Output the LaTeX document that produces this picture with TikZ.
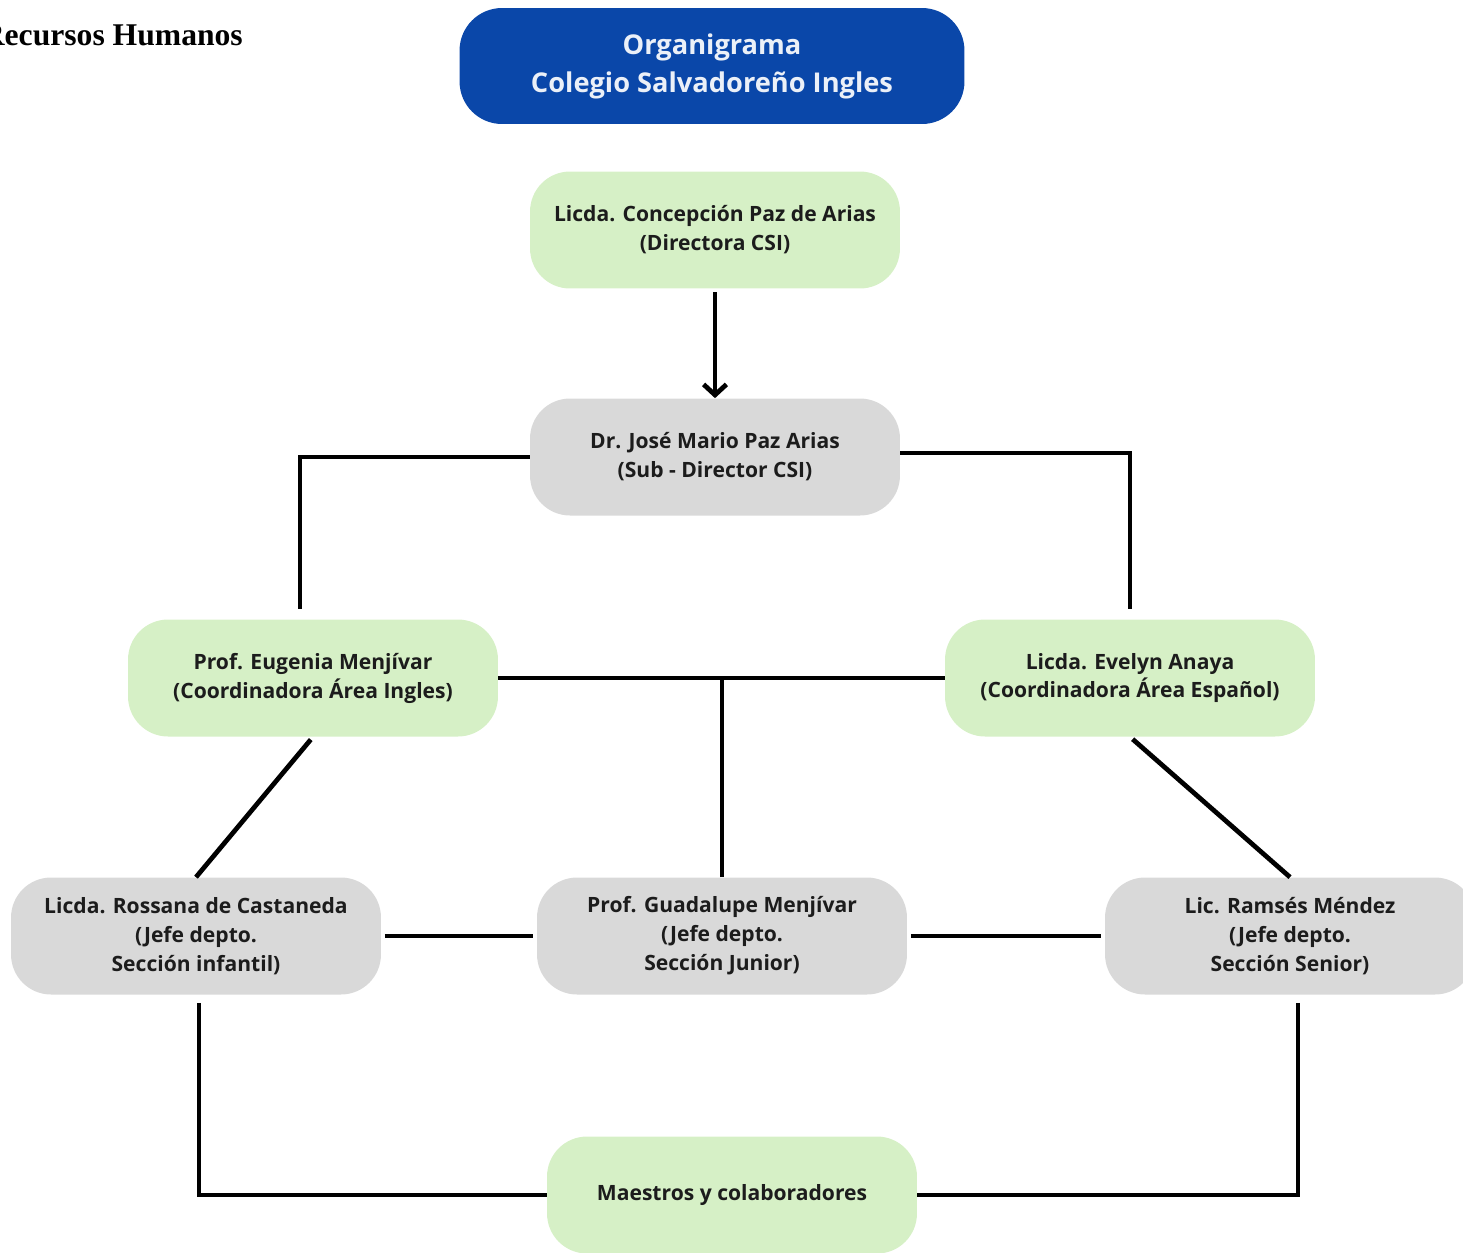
\documentclass[tikz,border=0pt]{standalone}
\usepackage{fontspec}
\setmainfont{Open Sans}
\newfontfamily\timesfont{Liberation Serif}
\usetikzlibrary{arrows.meta, positioning}
\definecolor{azul}{HTML}{0A47A9}
\definecolor{verde}{HTML}{D6F0C6}
\definecolor{gris}{HTML}{D9D9D9}
\definecolor{letra}{HTML}{1C1C1C}

\begin{document}
\begin{tikzpicture}[x=0.02cm, y=-0.02cm,
    box/.style = {rounded corners=0.8cm, minimum width=7.4cm, minimum height=2.34cm,
                  align=center, text=letra, font=\fontsize{12}{16.5}\selectfont\bfseries},
    verdebox/.style = {box, fill=verde},
    grisbox/.style = {box, fill=gris},
    titulo/.style = {rounded corners=0.85cm, fill=azul, minimum width=10.1cm, minimum height=2.32cm,
                  align=center, text=white!92!azul, font=\fontsize{15.5}{21.6}\selectfont\bfseries},
    link/.style = {draw=black, line width=2.7pt}]
  \useasboundingbox (0,0) rectangle (1463,1252);

  \node[anchor=base east, font=\timesfont\fontsize{18}{20}\selectfont\bfseries] (rh) at (249,45) {Recursos Humanos};

  \node[titulo]   (tit) at (712,66)   {Organigrama\\Colegio Salvadoreño Ingles};
  \node[verdebox] (dir) at (715,230)  {Licda. Concepción Paz de Arias\\(Directora CSI)};
  \node[grisbox]  (sub) at (715,457)  {Dr. José Mario Paz Arias\\(Sub - Director CSI)};
  \node[verdebox] (eug) at (313,678)  {Prof. Eugenia Menjívar\\(Coordinadora Área Ingles)};
  \node[verdebox] (eve) at (1130,678) {Licda. Evelyn Anaya\\(Coordinadora Área Español)};
  \node[grisbox]  (ros) at (196,936)  {Licda. Rossana de Castaneda\\(Jefe depto.\\Sección infantil)};
  \node[grisbox]  (gua) at (722,936)  {Prof. Guadalupe Menjívar\\(Jefe depto.\\Sección Junior)};
  \node[grisbox]  (ram) at (1290,936) {Lic. Ramsés Méndez\\(Jefe depto.\\Sección Senior)};
  \node[verdebox] (mae) at (732,1195) {Maestros y colaboradores};

  % jerarquia
  \draw[link, -{Straight Barb[length=6pt, width=13pt]}, shorten <=2pt] (dir.south) -- (sub.north);
  \draw[link, shorten >=0.2cm] (sub.west) -| ([xshift=-0.26cm]eug.north);
  \draw[link, shorten >=0.2cm] ([yshift=0.08cm]sub.east) -| (eve.north);
  \draw[link] (eug.east) -- (eve.west);
  \draw[link] (gua.north) -- (gua.north |- eug.east);
  \draw[link, shorten <=2pt] (eug.south) -- (ros.north);
  \draw[link, shorten <=2pt] (eve.south) -- (ram.north);
  \draw[link, shorten <=2pt, shorten >=2pt] (ros.east) -- (gua.west);
  \draw[link, shorten <=2pt, shorten >=2pt] (gua.east) -- (ram.west);
  \draw[link, shorten <=0.16cm] ([xshift=0.06cm]ros.south) |- (mae.west);
  \draw[link, shorten <=0.16cm] ([xshift=0.16cm]ram.south) |- (mae.east);
\end{tikzpicture}
\end{document}
